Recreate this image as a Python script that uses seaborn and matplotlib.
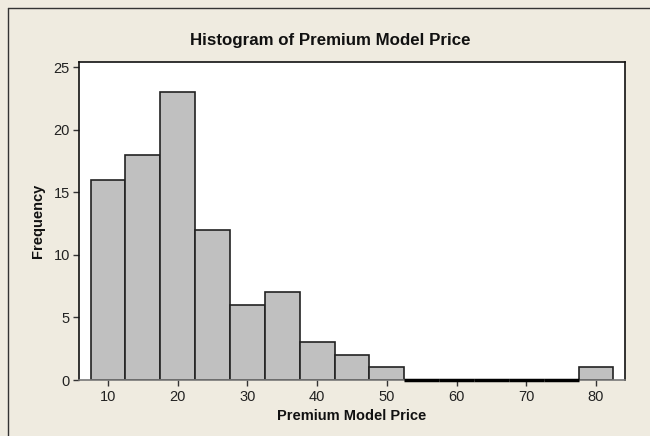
import seaborn as sns
import pandas as pd
import numpy as np
import matplotlib.pyplot as plt
from matplotlib.lines import Line2D

# Bin centers and counts
bin_centers = [10, 15, 20, 25, 30, 35, 40, 45, 50, 55, 60, 65, 70, 75, 80]
counts = [16, 18, 23, 12, 6, 7, 3, 2, 1, 0, 0, 0, 0, 0, 1]
bin_edges = [7.5 + 5 * i for i in range(len(bin_centers) + 1)]
x_ticks = [10, 20, 30, 40, 50, 60, 70, 80]
y_ticks = [0, 5, 10, 15, 20, 25]

df = pd.DataFrame({"Premium Model Price": bin_centers, "count": counts})

sns.set_style("white")
plt.rcParams['font.family'] = ['Liberation Sans', 'DejaVu Sans']

bg = "#EFEBE0"
fig = plt.figure(figsize=(6.5, 4.36), dpi=100, facecolor=bg)
ax = fig.add_axes([79 / 650, 1 - 380 / 436, (625 - 79) / 650, (380 - 62) / 436])
ax.set_facecolor("white")

sns.histplot(data=df, x="Premium Model Price", weights="count", bins=bin_edges,
             color="#C0C0C0", alpha=1, edgecolor="#222222", linewidth=1.2, ax=ax)

# Minitab draws empty bins as a thick line on the baseline
for c, n in zip(bin_centers, counts):
    if n == 0:
        ax.plot([c - 2.5, c + 2.5], [0, 0], color="black", lw=2.5,
                solid_capstyle="butt", clip_on=False, zorder=5)

ax.set_xlim(5.85, 84.15)
ax.set_ylim(0, 25.4)
ax.set_xticks(x_ticks)
ax.set_yticks(y_ticks)
ax.tick_params(axis="both", direction="out", length=4.5, width=1, color="#333333",
               labelsize=10.5, labelcolor="#222222", pad=2)
ax.tick_params(axis="x", pad=2.5)
ax.tick_params(bottom=True, left=True)

for s in ["top", "right", "left"]:
    ax.spines[s].set_color("#111111")
    ax.spines[s].set_linewidth(1.2)
ax.spines["bottom"].set_color("#777777")
ax.spines["bottom"].set_linewidth(1.2)

ax.set_xlabel("Premium Model Price", fontsize=10.5, fontweight="bold", color="#111111", labelpad=3.5)
ax.set_ylabel("Frequency", fontsize=10.5, fontweight="bold", color="#111111", labelpad=6)
fig.text(330 / 650, 1 - 40 / 436, "Histogram of Premium Model Price", ha="center", va="center",
         fontsize=12.2, fontweight="bold", color="#111111")

# Frame of the graph window (top and left edges visible)
fig.add_artist(Line2D([8 / 650, 1], [1 - 8 / 436, 1 - 8 / 436], color="#333333", lw=1))
fig.add_artist(Line2D([8 / 650, 8 / 650], [0, 1 - 8 / 436], color="#333333", lw=1))

plt.savefig("out.png", dpi=100, facecolor=bg)
plt.close()
